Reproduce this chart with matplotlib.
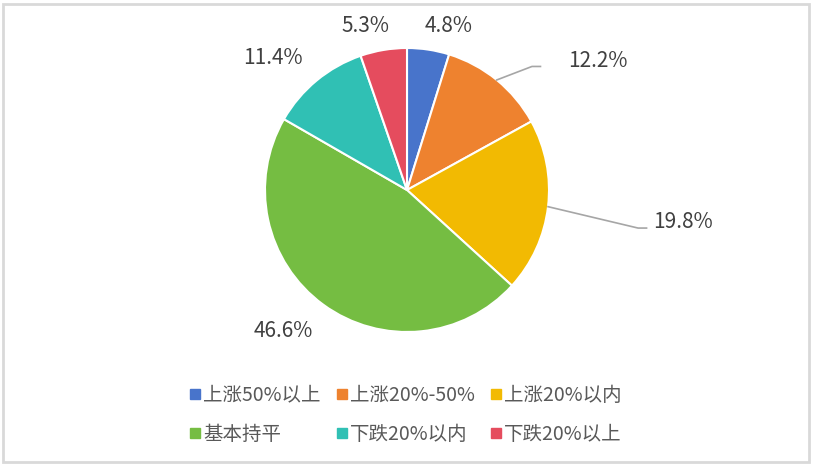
import numpy as np
import matplotlib.pyplot as plt
from matplotlib.patches import Rectangle
from matplotlib.lines import Line2D

plt.rcParams['font.family'] = ['Noto Sans CJK SC', 'DejaVu Sans']

# data
categories = ["上涨50%以上", "上涨20%-50%", "上涨20%以内", "基本持平", "下跌20%以内", "下跌20%以上"]
shares = [4.8, 12.2, 19.8, 46.6, 11.4, 5.3]
colors = ["#4874CB", "#EE822F", "#F2BA02", "#75BD42", "#30C0B4", "#E54C5E"]

# label positions (pie radius = 1)
label_pos = [(0.29, 1.155), (1.345, 0.91), (1.944, -0.225),
             (-0.873, -0.993), (-0.944, 0.93), (-0.289, 1.155)]
# leader elbows for the labels that sit further out
leaders = {1: (0.88, 0.87), 2: (1.627, -0.268)}

fig = plt.figure(figsize=(8.13, 4.67), dpi=100)
fig.patch.set_facecolor("white")

# chart frame
fig.add_artist(Rectangle((2.5 / 813, 5 / 467), 806 / 813, 458 / 467,
                         transform=fig.transFigure, fill=False,
                         edgecolor="#D9D9D9", linewidth=2))

ax = fig.add_axes([(407 - 142) / 813, (467 - 332) / 467, 284 / 813, 284 / 467])
wedges, _ = ax.pie(shares, colors=colors, startangle=90, counterclock=False,
                   radius=1.0,
                   wedgeprops=dict(edgecolor="white", linewidth=1.5))
ax.set_xlim(-1, 1)
ax.set_ylim(-1, 1)
ax.set_aspect("equal")

for i, (w, val) in enumerate(zip(wedges, shares)):
    lx, ly = label_pos[i]
    ax.text(lx, ly, f"{val}%", ha="center", va="center",
            fontsize=15, color="#404040", clip_on=False)
    if i in leaders:
        ang = np.deg2rad((w.theta1 + w.theta2) / 2)
        ex, ey = leaders[i]
        ax.plot([np.cos(ang), ex, ex + 0.06], [np.sin(ang), ey, ey],
                color="#A6A6A6", linewidth=1.2, clip_on=False)

handles = [Line2D([], [], marker="s", linestyle="none", markersize=7,
                  markerfacecolor=c, markeredgecolor=c) for c in colors]
# legend fills column by column, so reorder to read row by row
order = [0, 3, 1, 4, 2, 5]
fig.legend([handles[k] for k in order], [categories[k] for k in order],
           ncol=3, loc="center",
           bbox_to_anchor=(406 / 813, (467 - 415) / 467),
           frameon=False, fontsize=14, labelcolor="#595959",
           handlelength=0.5, handletextpad=0.15, columnspacing=0.85,
           labelspacing=0.95)

plt.savefig("out.png", dpi=100)
